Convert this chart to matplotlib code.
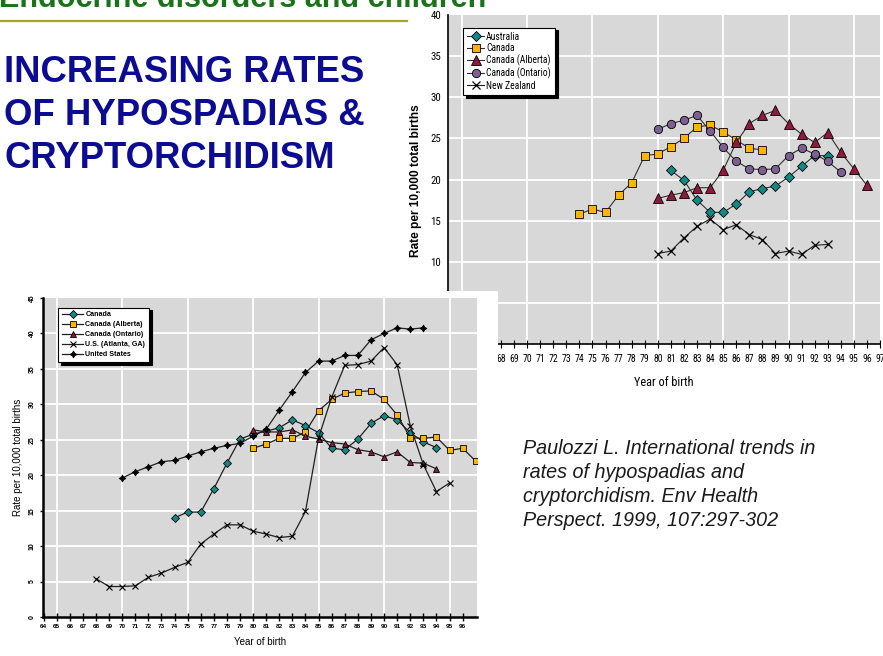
import matplotlib
matplotlib.use('Agg')
import matplotlib.pyplot as plt
from matplotlib import font_manager
from matplotlib.font_manager import FontProperties
from matplotlib.lines import Line2D

# ---------------- data: cryptorchidism (upper chart) ----------------
crypt_years_australia = list(range(1981, 1994))
crypt_australia = [21.1, 19.9, 17.5, 16.0, 16.0, 17.0, 18.5, 18.9, 19.2, 20.3, 21.6, 22.9, 22.9]
crypt_years_canada = list(range(1974, 1989))
crypt_canada = [15.8, 16.4, 16.0, 18.1, 19.6, 22.9, 23.1, 24.0, 25.0, 26.4, 26.6, 25.8, 24.8, 23.8, 23.6]
crypt_years_alberta = list(range(1980, 1997))
crypt_alberta = [17.7, 18.1, 18.4, 19.0, 19.0, 21.1, 24.5, 26.8, 27.8, 28.4, 26.8, 25.5, 24.5, 25.7, 23.3, 21.3, 19.3]
crypt_years_ontario = list(range(1980, 1995))
crypt_ontario = [26.1, 26.8, 27.2, 27.8, 25.9, 23.9, 22.2, 21.3, 21.2, 21.3, 22.9, 23.8, 23.1, 22.2, 20.9]
crypt_years_nz = list(range(1980, 1994))
crypt_nz = [11.0, 11.3, 12.9, 14.3, 15.2, 13.9, 14.5, 13.3, 12.7, 11.0, 11.3, 10.9, 12.0, 12.1]

# ---------------- data: hypospadias (lower chart) ----------------
hypo_years_canada = list(range(1974, 1995))
hypo_canada = [14.0, 14.8, 14.8, 18.1, 21.7, 25.1, 25.8, 26.2, 26.7, 27.8, 27.0, 26.0, 23.8, 23.6,
               25.1, 27.3, 28.4, 27.8, 26.0, 24.7, 23.9]
hypo_years_alberta = list(range(1980, 1998))
hypo_alberta = [23.8, 24.4, 25.2, 25.2, 26.1, 29.1, 30.7, 31.6, 31.8, 31.9, 30.7, 28.5, 25.3, 25.2,
                25.4, 23.5, 23.8, 22.0]
hypo_years_ontario = list(range(1980, 1995))
hypo_ontario = [26.4, 26.1, 26.1, 26.4, 25.5, 25.1, 24.6, 24.4, 23.6, 23.3, 22.6, 23.3, 21.8, 21.7, 20.9]
hypo_years_atlanta = list(range(1968, 1996))
hypo_atlanta = [5.4, 4.3, 4.3, 4.4, 5.6, 6.2, 7.0, 7.7, 10.3, 11.7, 13.0, 13.0, 12.1, 11.7, 11.2, 11.4,
                14.9, 25.3, 31.0, 35.5, 35.6, 36.1, 38.0, 35.6, 27.0, 21.5, 17.7, 18.9]
hypo_years_us = list(range(1970, 1994))
hypo_us = [19.6, 20.5, 21.2, 21.9, 22.1, 22.7, 23.3, 23.8, 24.2, 24.5, 25.5, 26.5, 29.2, 31.8, 34.5,
           36.1, 36.1, 36.9, 36.9, 39.1, 40.0, 40.8, 40.6, 40.8]

crypt_labels = ['Australia', 'Canada', 'Canada (Alberta)', 'Canada (Ontario)', 'New Zealand']
hypo_labels = ['Canada', 'Canada (Alberta)', 'Canada (Ontario)', 'U.S. (Atlanta, GA)', 'United States']
tick_years = list(range(1964, 1998))
tick_labels = [str(y % 100) for y in tick_years]

slide_title = 'Endocrine disorders and children'
heading_lines = ['INCREASING RATES', 'OF HYPOSPADIAS &', 'CRYPTORCHIDISM']
citation_lines = ['Paulozzi L. International trends in', 'rates of hypospadias and',
                  'cryptorchidism. Env Health', 'Perspect. 1999, 107:297-302']

# ---------------- fonts ----------------
names = {f.name for f in font_manager.fontManager.ttflist}
SANS = 'Liberation Sans' if 'Liberation Sans' in names else 'DejaVu Sans'
plt.rcParams['font.family'] = [SANS, 'DejaVu Sans']

narrow_path = None
cands = []
for f in font_manager.fontManager.ttflist:
    nm = f.name.lower()
    st = str(f.stretch).lower()
    if f.style != 'normal' or f.weight not in (400, 'normal', 'regular'):
        continue
    if 'narrow' in nm or 'condensed' in nm or st in ('condensed', 'semi-condensed', 'extra-condensed'):
        cands.append(f)
pref = ['liberation sans narrow', 'roboto condensed', 'dejavu sans', 'open sans', 'noto sans']
cands.sort(key=lambda f: next((i for i, p in enumerate(pref) if p in f.name.lower()), 99))
if cands:
    narrow_path = cands[0].fname


def narrow_fp(size):
    if narrow_path:
        return FontProperties(fname=narrow_path, size=size)
    return FontProperties(family=SANS, size=size * 0.88)


W, H = 883, 656
fig = plt.figure(figsize=(W / 100, H / 100), dpi=100)
fig.patch.set_facecolor('white')


def fx(px):
    return px / W


def fy(py):
    return 1 - py / H


GRAY = '#d8d8d8'
TEAL = '#0f8a86'
YELLOW = '#ffb400'
MAROON = '#8e1a3e'
PURPLE = '#7e5f92'
LINEC = '#303030'

# ---------------- upper chart ----------------
ax1 = fig.add_axes([fx(448), fy(344), fx(880) - fx(448), fy(15) - fy(344)], zorder=1)
ax1.set_facecolor(GRAY)
ax1.set_xlim(1963.95, 1997.0)
ax1.set_ylim(0, 40)
for x in range(1965, 1997, 5):
    ax1.axvline(x, color='white', lw=1.3, zorder=0.5)
for y in range(5, 40, 5):
    ax1.axhline(y, color='white', lw=1.3, zorder=0.5)

kw = dict(color=LINEC, lw=0.8, markeredgecolor='black', markeredgewidth=0.6)
ax1.plot(crypt_years_australia, crypt_australia, marker='D', ms=5.2, mfc=TEAL, label=crypt_labels[0], **kw)
ax1.plot(crypt_years_canada, crypt_canada, marker='s', ms=5.8, mfc=YELLOW, label=crypt_labels[1], **kw)
ax1.plot(crypt_years_alberta, crypt_alberta, marker='^', ms=6.5, mfc=MAROON, label=crypt_labels[2], **kw)
ax1.plot(crypt_years_ontario, crypt_ontario, marker='o', ms=6.0, mfc=PURPLE, label=crypt_labels[3], **kw)
ax1.plot(crypt_years_nz, crypt_nz, marker='x', ms=5.5, color='#202020', lw=0.8, mec='black', mew=0.9,
         label=crypt_labels[4])

for s in ['top', 'right']:
    ax1.spines[s].set_visible(False)
for s in ['left', 'bottom']:
    ax1.spines[s].set_color('black')
    ax1.spines[s].set_linewidth(1.2)
ax1.set_xticks(tick_years)
ax1.set_xticklabels(tick_labels, fontproperties=narrow_fp(7.0))
ax1.set_yticks(range(0, 41, 5))
ax1.set_yticklabels([str(v) for v in range(0, 41, 5)], fontproperties=narrow_fp(7.8))
ax1.tick_params(axis='x', direction='inout', length=6, width=0.8, pad=4)
ax1.tick_params(axis='y', length=0, pad=5)
ax1.set_xlabel('Year of birth', fontproperties=narrow_fp(8.8), labelpad=9)
leg1 = ax1.legend(loc='upper left', bbox_to_anchor=(0.035, 0.962), prop=narrow_fp(6.9),
                  frameon=True, fancybox=False, edgecolor='black', framealpha=1, facecolor='white',
                  shadow={'color': 'black', 'alpha': 1}, labelspacing=0.15, handlelength=1.7,
                  handletextpad=0.25, borderpad=0.45, borderaxespad=0)
leg1.get_frame().set_linewidth(0.8)

fig.text(fx(416), fy(181), 'Rate per 10,000 total births', rotation=90, ha='center', va='center',
         fontsize=8.6, fontweight='bold', color='black', zorder=1.5)

# ---------------- white panel of the lower chart ----------------
box = fig.add_axes([0, 0, fx(498), fy(291)], zorder=2)
box.set_facecolor('white')
box.set_xticks([])
box.set_yticks([])
for s in box.spines.values():
    s.set_visible(False)

# ---------------- lower chart ----------------
ax2 = fig.add_axes([fx(43), fy(617), fx(477) - fx(43), fy(298) - fy(617)], zorder=3)
ax2.set_facecolor(GRAY)
ax2.set_xlim(1963.95, 1997.1)
ax2.set_ylim(0, 45)
for x in range(1965, 1997, 5):
    ax2.axvline(x, color='white', lw=1.3, zorder=0.5)
for y in range(5, 45, 5):
    ax2.axhline(y, color='white', lw=1.3, zorder=0.5)

kw2 = dict(color='#202020', lw=0.9, markeredgecolor='black', markeredgewidth=0.6)
ax2.plot(hypo_years_canada, hypo_canada, marker='D', ms=4.4, mfc=TEAL, label=hypo_labels[0], **kw2)
ax2.plot(hypo_years_alberta, hypo_alberta, marker='s', ms=4.4, mfc=YELLOW, label=hypo_labels[1], **kw2)
ax2.plot(hypo_years_ontario, hypo_ontario, marker='^', ms=5.0, mfc=MAROON, label=hypo_labels[2], **kw2)
ax2.plot(hypo_years_atlanta, hypo_atlanta, marker='x', ms=4.0, color='#202020', lw=0.9, mec='black',
         mew=0.8, label=hypo_labels[3])
ax2.plot(hypo_years_us, hypo_us, marker=(4, 1, 0), ms=5.0, color='#202020', lw=0.9, mec='black',
         mfc='black', mew=0.6, label=hypo_labels[4])

for s in ['top', 'right']:
    ax2.spines[s].set_visible(False)
for s in ['left', 'bottom']:
    ax2.spines[s].set_color('black')
    ax2.spines[s].set_linewidth(1.8)
ax2.set_xticks(tick_years[:-1])
ax2.set_xticklabels(tick_labels[:-1], fontsize=4.6, fontweight='bold')
ax2.set_yticks(range(0, 46, 5))
ax2.set_yticklabels([str(v) for v in range(0, 46, 5)], fontsize=5, fontweight='bold', rotation=90,
                    va='center')
ax2.tick_params(axis='x', direction='inout', length=6, width=1.0, pad=2)
ax2.tick_params(axis='y', direction='out', length=2, width=1.0, pad=3)
ax2.set_xlabel('Year of birth', fontsize=7, labelpad=6)
ax2.set_ylabel('Rate per 10,000 total births', fontsize=7, labelpad=4)
leg2 = ax2.legend(loc='upper left', bbox_to_anchor=(0.035, 0.97), prop={'size': 5.1, 'weight': 'bold'},
                  frameon=True, fancybox=False, edgecolor='black', framealpha=1, facecolor='white',
                  shadow={'color': 'black', 'alpha': 1}, labelspacing=0.42, handlelength=3.0,
                  handletextpad=0.3, borderpad=0.55, borderaxespad=0)
leg2.get_frame().set_linewidth(0.8)

# ---------------- slide text ----------------
fig.text(fx(-1), fy(7), slide_title, fontsize=22, fontweight='bold', color='#197319',
         ha='left', va='baseline', zorder=6)
fig.add_artist(Line2D([0, fx(407)], [fy(20.5), fy(20.5)], color='#a6a622', lw=1.6, zorder=6))

for i, line in enumerate(heading_lines):
    fig.text(fx(4), fy(81.7 + i * 43), line, fontsize=26.3, fontweight='bold', color='#0b0b94',
             ha='left', va='baseline', zorder=6)

for i, line in enumerate(citation_lines):
    fig.text(fx(523), fy(453.5 + i * 24.3), line, fontsize=14.2, fontstyle='italic', color='#1a1a1a',
             ha='left', va='baseline', zorder=6)

fig.savefig('out.png', dpi=100, facecolor='white')
